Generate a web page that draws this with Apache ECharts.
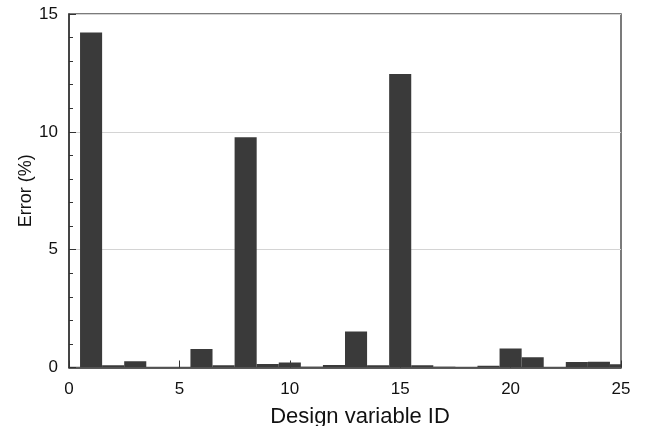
<!DOCTYPE html>
<html>
<head>
<meta charset="utf-8">
<script src="https://cdn.jsdelivr.net/npm/echarts@6/dist/echarts.min.js"></script>
<style>
html,body{margin:0;padding:0;background:#fff;}
#chart{width:651px;height:426px;}
</style>
</head>
<body>
<div id="chart"></div>
<script>
var variableIds = [1,2,3,4,5,6,7,8,9,10,11,12,13,14,15,16,17,18,19,20,21,22,23,24,25];
var errorValues = [14.22,0.1,0.27,0.02,0.02,0.78,0.1,9.77,0.15,0.21,0.03,0.11,1.53,0.1,12.45,0.1,0.03,0.02,0.07,0.81,0.44,0.02,0.23,0.24,0.14];
var xTicks = [0,5,10,15,20,25];
var yTicks = [0,5,10,15];

var chart = echarts.init(document.getElementById('chart'), null, {renderer:'canvas'});
var font = 'Liberation Sans, Arial, Helvetica, sans-serif';
var data = variableIds.map(function(id,i){return [id, errorValues[i]];});

chart.setOption({
  animation:false,
  backgroundColor:'#fff',
  grid:{left:69,top:14,right:30,bottom:58.5,show:true,borderColor:'#505050',borderWidth:1.5,backgroundColor:'transparent',
        containLabel:false,outerBoundsMode:'none'},
  xAxis:{
    type:'value',min:xTicks[0],max:xTicks[xTicks.length-1],interval:5,
    name:'Design variable ID',nameLocation:'middle',nameGap:38,nameMoveOverlap:false,
    nameTextStyle:{fontFamily:font,fontSize:22,color:'#111',padding:[0,0,0,30]},
    axisLine:{show:true,lineStyle:{color:'#333',width:1.5}},
    axisTick:{show:true,inside:true,length:7,lineStyle:{color:'#333',width:1}},
    axisLabel:{fontFamily:font,fontSize:17,color:'#111',margin:13},
    splitLine:{show:false}
  },
  yAxis:{
    type:'value',min:yTicks[0],max:yTicks[yTicks.length-1],interval:5,
    name:'Error (%)',nameLocation:'middle',nameGap:34,nameMoveOverlap:false,
    nameTextStyle:{fontFamily:font,fontSize:18,color:'#111'},
    axisLine:{show:true,lineStyle:{color:'#333',width:1.5}},
    axisTick:{show:true,inside:true,length:7,lineStyle:{color:'#333',width:1}},
    minorTick:{show:true,splitNumber:5,length:4,lineStyle:{color:'#333',width:1}},
    axisLabel:{fontFamily:font,fontSize:17,color:'#111',margin:11},
    splitLine:{show:true,lineStyle:{color:'#d4d4d4',width:1}}
  },
  series:[{
    type:'custom',
    clip:true,
    data:data,
    renderItem:function(params, api){
      var x = api.value(0), v = api.value(1);
      var p0 = api.coord([x-0.5, v]);
      var p1 = api.coord([x+0.5, 0]);
      var rect = {x:p0[0], y:p0[1], width:p1[0]-p0[0], height:p1[1]-p0[1]};
      var clipped = echarts.graphic.clipRectByRect(rect, {
        x:params.coordSys.x, y:params.coordSys.y,
        width:params.coordSys.width, height:params.coordSys.height
      });
      return clipped && {type:'rect', shape:clipped, style:{fill:'#3a3a3a'}};
    },
    z:1
  }]
});
</script>
</body>
</html>
